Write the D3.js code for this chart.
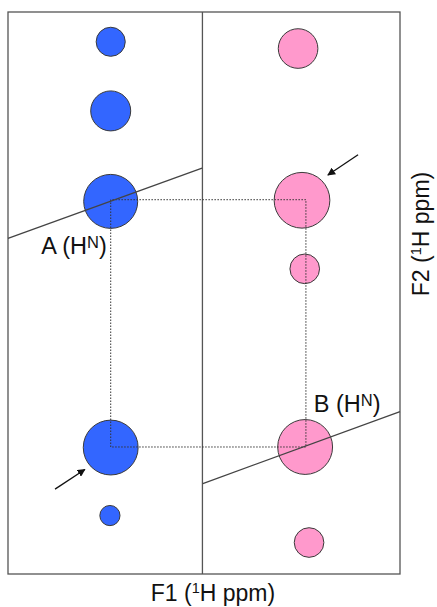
<!DOCTYPE html>
<html>
<head>
<meta charset="utf-8">
<script src="https://cdn.jsdelivr.net/npm/d3@7"></script>
<style>
  body { margin: 0; background: #fff; }
  text { font-family: "Liberation Sans", Arial, sans-serif; fill: #111; }
</style>
</head>
<body>
<svg id="spectrum" width="437" height="607"></svg>
<script>
// Positions are in panel units: 0..100 across the box, 0..100 down the box
const panelDivider = 49.6

// Strip A (blue) peaks
const bluePeakX = [26.2, 26.2, 26.2, 26.2, 26.0]
const bluePeakY = [5.3, 17.6, 33.7, 77.5, 89.6]
const blueIntensity = [27, 51, 93, 96, 13]

// Strip B (pink) peaks
const pinkPeakX = [74.0, 75.0, 75.7, 75.8, 76.8]
const pinkPeakY = [6.5, 33.5, 45.7, 77.4, 94.4]
const pinkIntensity = [50, 99, 28, 96, 28]

// Diagonal lines through the H^N peaks [x1, y1, x2, y2]
const diagonals = [
  [0, 40.3, 49.5, 27.8],
  [49.7, 83.9, 100, 71.1]
]

// Dotted connection between A and B
const cornerA = [26.2, 33.4]
const cornerB = [76.0, 77.4]

// Arrows [tailX, tailY, headX, headY]
const arrows = [
  [89.3, 25.4, 81.6, 29.0],
  [12.0, 84.9, 19.6, 81.4]
]

const peakLabels = [
  { name: "A (H", sup: "N", x: 8.5, y: 43.0 },
  { name: "B (H", sup: "N", x: 78.0, y: 71.1 }
]

let svg = d3.select("#spectrum")

const box = { left: 8, top: 12, right: 400, bottom: 574 }

let x = d3.scaleLinear().domain([0, 100]).range([box.left, box.right])
let y = d3.scaleLinear().domain([0, 100]).range([box.top, box.bottom])
let r = d3.scaleSqrt().domain([0, 100]).range([0, 28])

svg.append("defs").append("marker")
    .attr("id", "head")
    .attr("viewBox", "0 0 10 10")
    .attr("refX", 9)
    .attr("refY", 5)
    .attr("markerWidth", 8)
    .attr("markerHeight", 8)
    .attr("markerUnits", "userSpaceOnUse")
    .attr("orient", "auto")
  .append("path")
    .attr("d", "M0,0 L10,5 L0,10 z")
    .attr("fill", "#111")

// Frame and strip divider
svg.append("rect")
    .attr("x", x(0))
    .attr("y", y(0))
    .attr("width", x(100) - x(0))
    .attr("height", y(100) - y(0))
    .attr("fill", "none")
    .attr("stroke", "#555")
    .attr("stroke-width", 1.3)

svg.append("line")
    .attr("x1", x(panelDivider)).attr("x2", x(panelDivider))
    .attr("y1", y(0)).attr("y2", y(100))
    .attr("stroke", "#555")
    .attr("stroke-width", 1.3)

function drawPeaks(xs, ys, vals, color) {
  svg.append("g")
    .selectAll("circle")
    .data(vals)
    .enter().append("circle")
      .attr("cx", function(d, i) { return x(xs[i]) })
      .attr("cy", function(d, i) { return y(ys[i]) })
      .attr("r", function(d) { return r(d) })
      .attr("fill", color)
      .attr("stroke", "#3a3a3a")
      .attr("stroke-width", 1)
}

drawPeaks(bluePeakX, bluePeakY, blueIntensity, "#3366ff")
drawPeaks(pinkPeakX, pinkPeakY, pinkIntensity, "#ff99cc")

// dotted rectangle
svg.append("path")
    .attr("d", d3.line()([
      [x(cornerA[0]), y(cornerB[1])],
      [x(cornerA[0]), y(cornerA[1])],
      [x(cornerB[0]), y(cornerA[1])],
      [x(cornerB[0]), y(cornerB[1])],
      [x(cornerA[0]), y(cornerB[1])]
    ]))
    .attr("fill", "none")
    .attr("stroke", "#333")
    .attr("stroke-width", 1)
    .attr("stroke-dasharray", "1.5,1.5")

svg.append("g")
  .selectAll("line")
  .data(diagonals)
  .enter().append("line")
    .attr("x1", function(d) { return x(d[0]) })
    .attr("y1", function(d) { return y(d[1]) })
    .attr("x2", function(d) { return x(d[2]) })
    .attr("y2", function(d) { return y(d[3]) })
    .attr("stroke", "#444")
    .attr("stroke-width", 1.3)

svg.append("g")
  .selectAll("line")
  .data(arrows)
  .enter().append("line")
    .attr("x1", function(d) { return x(d[0]) })
    .attr("y1", function(d) { return y(d[1]) })
    .attr("x2", function(d) { return x(d[2]) })
    .attr("y2", function(d) { return y(d[3]) })
    .attr("stroke", "#111")
    .attr("stroke-width", 1.3)
    .attr("marker-end", "url(#head)")

// peak labels
let lbl = svg.append("g")
  .selectAll("text")
  .data(peakLabels)
  .enter().append("text")
    .attr("x", function(d) { return x(d.x) })
    .attr("y", function(d) { return y(d.y) })
    .attr("font-size", 23.5)

lbl.append("tspan").text(function(d) { return d.name })
lbl.append("tspan").attr("font-size", 16.5).attr("dy", -6).text(function(d) { return d.sup })
lbl.append("tspan").attr("dy", 6).text(")")

// axis titles
function axisTitle(sel) {
  sel.attr("font-size", 23).attr("text-anchor", "middle")
  sel.append("tspan").text("(")
  sel.append("tspan").attr("font-size", 14.5).attr("dy", -8).text("1")
  sel.append("tspan").attr("dy", 8).text("H ppm)")
}

let f1 = svg.append("text")
    .attr("x", 213)
    .attr("y", 601)
f1.append("tspan").text("F1 ")
axisTitle(f1)

let f2 = svg.append("text")
    .attr("transform", "translate(429,234) rotate(-90)")
f2.append("tspan").text("F2 ")
axisTitle(f2)
</script>
</body>
</html>
